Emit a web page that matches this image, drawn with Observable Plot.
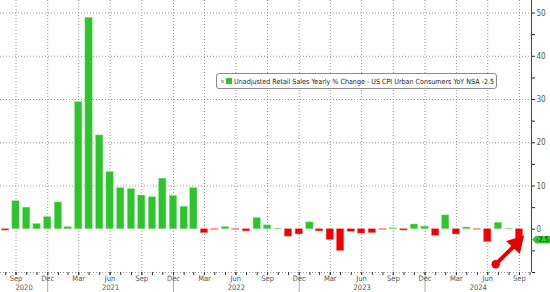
<!DOCTYPE html>
<html><head><meta charset="utf-8">
<script src="https://cdn.jsdelivr.net/npm/d3@7"></script>
<script src="https://cdn.jsdelivr.net/npm/@observablehq/plot@0.6"></script>
<style>
body{margin:0;background:#fff;}
#wrap{position:relative;width:550px;height:292px;font-family:"Liberation Sans Narrow","DejaVu Sans Condensed",sans-serif;}
#legend{position:absolute;left:216px;top:73px;width:279px;height:14px;border:1px solid #8c8c8c;border-radius:3px;background:#fff;font-size:7.1px;color:#222;display:flex;align-items:center;white-space:nowrap;}
#legend .g{width:3px;height:3px;background:#bbb;margin-left:4px;margin-right:2px;flex:none;}
#legend .c{width:6px;height:6px;background:#2ec42e;margin-right:2px;flex:none;}
#legend .t{flex:none;}
#tag{position:absolute;left:532px;width:18px;height:8px;background:#33c933;clip-path:polygon(0 50%,4px 0,100% 0,100% 100%,4px 100%);font-size:7.5px;line-height:8px;color:#111;padding-left:4px;box-sizing:border-box;}
</style></head>
<body><div id="wrap"></div>
<script>
const seriesName = "Unadjusted Retail Sales Yearly % Change - US CPI Urban Consumers YoY NSA";
const lastLabel = "-2.5";
const startMonth = "2020-08";
const values = [
  -0.3, 6.5, 5.0, 1.2, 2.8,
  6.2, 0.5, 29.4, 48.9, 21.7, 13.2, 9.5, 9.3, 7.8, 7.4, 11.7, 7.7,
  5.2, 9.5, -0.9, -0.1, 0.5, -0.1, -0.5, 2.6, 0.9, 0.1, -1.7, -1.2,
  1.6, -0.5, -2.5, -5.0, -0.6, -1.0, -0.9, -0.1, 0.2, -0.3, 1.1, 0.6,
  -1.5, 3.2, -1.2, 0.4, -0.1, -2.9, 1.5, 0.1, -2.5
];
const yMajor = [0, 10, 20, 30, 40, 50];
const yGridLines = [-10, 10, 20, 30, 40, 50];
const yMinor = [-10, -5, 5, 15, 25, 35, 45];
const quarterMonths = ["Mar", "Jun", "Sep", "Dec"];
const years = [2020, 2021, 2022, 2023, 2024];
const xDomain = [new Date("2020-08-16"), new Date("2024-11-04")];
const arrowAnno = [{from: "2024-07-23", fromValue: -8.1, to: "2024-09-22", toValue: -3.3}];

const green = "#2ec42e", red = "#f20000";
const start = new Date(startMonth + "-01");
const monthEnd = m => d3.utcDay.offset(d3.utcMonth.offset(m, 1), -1);
const data = values.map((v, i) => {
  const m = d3.utcMonth.offset(start, i);
  return {date: monthEnd(m), value: v};
});
const halfBar = 10.6 * 864e5;
const monthDates = data.map(d => d.date).concat([monthEnd(new Date("2024-10-01"))]);
const fmt = d3.utcFormat("%b");
const quarterDates = monthDates.filter(d => quarterMonths.includes(fmt(d)));
const yearSeps = years.slice(0, -1).map(y => monthEnd(new Date(`${y}-12-01`)));
const yearLabels = years.map(y => {
  const a = Math.max(+xDomain[0], +monthEnd(new Date(`${y-1}-12-01`)));
  const b = Math.min(+xDomain[1], +monthEnd(new Date(`${y}-12-01`)));
  return {year: String(y), x: new Date((a + b) / 2)};
});

const font = '"Liberation Sans Narrow","DejaVu Sans Condensed",sans-serif';
const chart = Plot.plot({
  width: 550, height: 292,
  marginLeft: 0, marginRight: 19, marginTop: 0, marginBottom: 20,
  style: {fontFamily: font, fontSize: "7.5px", background: "#fff", overflow: "visible"},
  x: {type: "utc", domain: xDomain, label: null},
  y: {domain: [-10, 52.9], label: null},
  marks: [
    Plot.ruleY(yGridLines, {stroke: "#999", strokeDasharray: "1,2"}),
    Plot.ruleX(quarterDates, {stroke: "#999", strokeDasharray: "1,2"}),
    Plot.rectY(data, {
      x1: d => new Date(+d.date - halfBar), x2: d => new Date(+d.date + halfBar),
      y1: 0, y2: "value",
      fill: d => d.value >= 0 ? green : red,
      stroke: d => d.value >= 0 ? "#8fe38f" : "#ff7070", strokeWidth: 0.5
    }),
    Plot.ruleX([xDomain[1]], {stroke: "#444"}),
    Plot.axisY({anchor: "right", ticks: yMajor, tickSize: 3, tickPadding: 2, fill: "#555", stroke: "#222", fontSize: 8}),
    Plot.axisY({anchor: "right", ticks: yMinor, tickSize: 3, tickFormat: () => "", stroke: "#222"}),
    Plot.axisX({ticks: monthDates, tickSize: 3, tickFormat: () => "", stroke: "#333"}),
    Plot.axisX({ticks: yearSeps, tickSize: 20, tickFormat: () => "", stroke: "#aaa"}),
    Plot.axisX({ticks: quarterDates, tickSize: 3, tickPadding: 0, tickFormat: "%b", fill: "#555", stroke: "#333"}),
    Plot.text(yearLabels, {x: "x", text: "year", frameAnchor: "bottom", lineAnchor: "top", dy: 12.5, fill: "#555"}),
    Plot.link(arrowAnno, {
      x1: d => new Date(d.from), y1: "fromValue", x2: d => new Date(d.to), y2: "toValue",
      stroke: "#e60000", strokeWidth: 4
    }),
    Plot.dot(arrowAnno, {x: d => new Date(d.to), y: "toValue", symbol: "triangle", r: 7, rotate: 43, fill: "#e60000"}),
    Plot.dot(arrowAnno, {x: d => new Date(d.from), y: "fromValue", r: 4.2, fill: "#e60000"})
  ]
});
const wrap = document.getElementById("wrap");
wrap.appendChild(chart);

const legend = document.createElement("div");
legend.id = "legend";
legend.innerHTML = `<span class="g"></span><span class="c"></span><span class="t"></span>`;
legend.lastChild.textContent = `${seriesName} ${lastLabel}`;
wrap.appendChild(legend);

const tag = document.createElement("div");
tag.id = "tag";
tag.textContent = lastLabel;
tag.style.top = (chart.scale("y").apply(values[values.length - 1]) - 4) + "px";
wrap.appendChild(tag);
</script>
</body></html>
